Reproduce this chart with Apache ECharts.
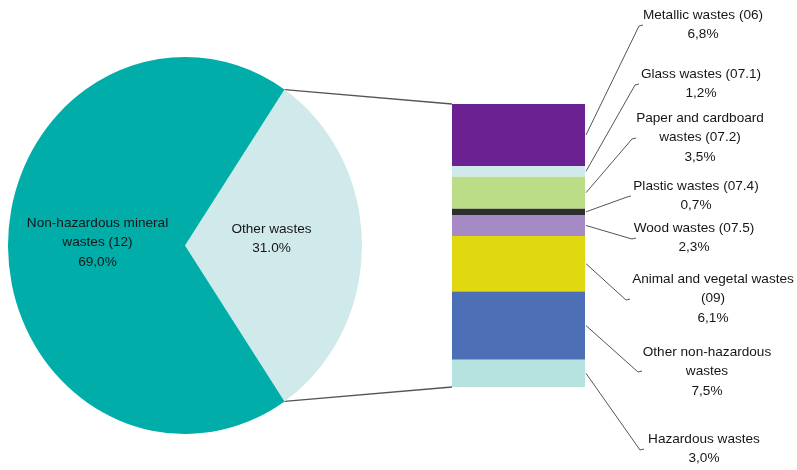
<!DOCTYPE html>
<html>
<head>
<meta charset="utf-8">
<script src="https://cdn.jsdelivr.net/npm/echarts@6/dist/echarts.min.js"></script>
<style>
  html, body { margin: 0; padding: 0; background: #ffffff; }
  #chart { width: 797px; height: 470px; }
</style>
</head>
<body>
<div id="chart"></div>
<script>
// Waste shares: overall split (pie) and breakdown of "other wastes" (stacked bar)
const pieNames = ['Other wastes', 'Non-hazardous mineral\nwastes (12)'];
const pieValues = [31.0, 69.0];
const pieDecimalMarks = ['.', ','];

const wasteCategories = [
  'Metallic wastes (06)',
  'Glass wastes (07.1)',
  'Paper and cardboard\nwastes (07.2)',
  'Plastic wastes (07.4)',
  'Wood wastes (07.5)',
  'Animal and vegetal wastes\n(09)',
  'Other non-hazardous\nwastes',
  'Hazardous wastes'
];
const wasteShares = [6.8, 1.2, 3.5, 0.7, 2.3, 6.1, 7.5, 3.0];

// Styling
const pieColors = ['#D0E9EA', '#00ADA9'];
const barColors = ['#6B2191', '#CFE9EC', '#BCDD88', '#2E2E2E', '#A68AC6', '#E0D912', '#4D6FB5', '#B6E2E0'];
const FONT = '"Liberation Sans", Arial, sans-serif';
const FONT_SIZE = 13.6;
const TEXT_COLOR = '#161616';
const LINE_COLOR = '#555555';

// Pie (drawn slightly taller than wide) and bar placement
const PIE_CENTER = [185, 245.5];
const PIE_RX = 177;
const PIE_RY = 188.5;
const pieLabelShift = [[-2, -7], [1, -3]];
const GRID = { left: 452, top: 104, width: 133, height: 283 };

// Callout placement for each bar segment: text centre x, first-line centre y, elbow point
const callouts = [
  { tx: 703, ty: 15,  ex: 639, ey: 26 },
  { tx: 701, ty: 74,  ex: 635, ey: 85 },
  { tx: 700, ty: 118, ex: 632, ey: 139 },
  { tx: 696, ty: 186, ex: 627, ey: 197 },
  { tx: 694, ty: 228, ex: 632, ey: 239 },
  { tx: 713, ty: 279, ex: 626, ey: 300 },
  { tx: 707, ty: 352, ex: 638, ey: 372 },
  { tx: 704, ty: 439, ex: 640, ey: 450 }
];
const LINE_H = 19.5;

const fmt = (v, mark) => v.toFixed(1).replace('.', mark) + '%';
const total = wasteShares.reduce((a, b) => a + b, 0);
const pieTotal = pieValues.reduce((a, b) => a + b, 0);
// "Other wastes" is centred on the right-hand side, facing the bar
const halfRad = pieValues[0] / pieTotal * Math.PI;

const chart = echarts.init(document.getElementById('chart'), null, { renderer: 'canvas' });

// Pie slices: angles follow the cumulative share of each value
function renderSlice(params, api) {
  const i = params.dataIndex;
  let start = -halfRad;
  for (let k = 0; k < i; k++) start += api.value(0, k) / pieTotal * 2 * Math.PI;
  const end = start + api.value(0) / pieTotal * 2 * Math.PI;
  const mid = (start + end) / 2;
  const lx = PIE_CENTER[0] + PIE_RX / 2 * Math.cos(mid) + pieLabelShift[i][0];
  const ly = PIE_CENTER[1] + PIE_RY / 2 * Math.sin(mid) + pieLabelShift[i][1];
  return {
    type: 'group',
    children: [
      {
        type: 'sector',
        shape: { cx: PIE_CENTER[0], cy: PIE_CENTER[1], r: PIE_RX, r0: 0, startAngle: start, endAngle: end, clockwise: true },
        originX: PIE_CENTER[0],
        originY: PIE_CENTER[1],
        scaleY: PIE_RY / PIE_RX,
        style: { fill: pieColors[i], stroke: null }
      },
      {
        type: 'text',
        style: {
          text: pieNames[i] + '\n' + fmt(api.value(0), pieDecimalMarks[i]),
          x: lx,
          y: ly,
          align: 'center',
          verticalAlign: 'middle',
          font: FONT_SIZE + 'px ' + FONT,
          lineHeight: 19.5,
          fill: TEXT_COLOR
        }
      }
    ]
  };
}

const barSeries = wasteCategories.map((name, i) => ({
  name: name,
  type: 'bar',
  stack: 'others',
  barWidth: '100%',
  silent: true,
  itemStyle: { color: barColors[i] },
  data: [wasteShares[i]]
}));

chart.setOption({
  animation: false,
  backgroundColor: '#ffffff',
  grid: { left: GRID.left, top: GRID.top, width: GRID.width, height: GRID.height, containLabel: false },
  xAxis: { type: 'category', data: ['others'], show: false, boundaryGap: true },
  yAxis: { type: 'value', min: 0, max: total, inverse: true, show: false },
  series: [
    {
      type: 'custom',
      coordinateSystem: 'none',
      silent: true,
      renderItem: renderSlice,
      data: pieValues.map(v => [v])
    }
  ].concat(barSeries)
});

// Callouts and pie-to-bar connectors, placed from the axis scale
const graphics = [];
let acc = 0;
wasteShares.forEach((v, i) => {
  const mid = chart.convertToPixel({ yAxisIndex: 0 }, acc + v / 2);
  acc += v;
  const c = callouts[i];
  const x0 = GRID.left + GRID.width + 1;
  graphics.push({
    type: 'polyline',
    silent: true,
    shape: { points: [[x0, mid], [c.ex, c.ey], [c.ex + 4, c.ey - 1]] },
    style: { stroke: LINE_COLOR, lineWidth: 1, fill: null }
  });
  graphics.push({
    type: 'text',
    silent: true,
    style: {
      text: wasteCategories[i] + '\n' + fmt(v, ','),
      x: c.tx,
      y: c.ty - LINE_H / 2,
      align: 'center',
      verticalAlign: 'top',
      font: FONT_SIZE + 'px ' + FONT,
      lineHeight: LINE_H,
      fill: TEXT_COLOR
    }
  });
});

const edgeX = PIE_CENTER[0] + PIE_RX * Math.cos(halfRad);
const edgeDy = PIE_RY * Math.sin(halfRad);
const barTop = chart.convertToPixel({ yAxisIndex: 0 }, 0);
const barBottom = chart.convertToPixel({ yAxisIndex: 0 }, total);
graphics.push({
  type: 'line', silent: true,
  shape: { x1: edgeX, y1: PIE_CENTER[1] - edgeDy, x2: GRID.left, y2: barTop },
  style: { stroke: LINE_COLOR, lineWidth: 1.3 }
});
graphics.push({
  type: 'line', silent: true,
  shape: { x1: edgeX, y1: PIE_CENTER[1] + edgeDy, x2: GRID.left, y2: barBottom },
  style: { stroke: LINE_COLOR, lineWidth: 1.3 }
});

chart.setOption({ graphic: graphics });
</script>
</body>
</html>
